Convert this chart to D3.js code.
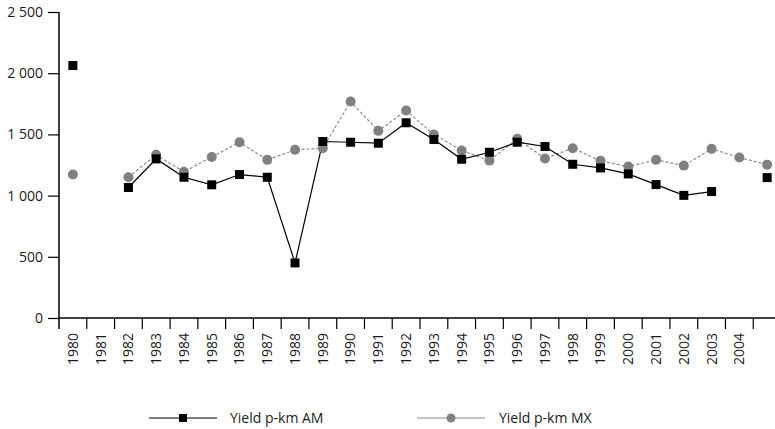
<!DOCTYPE html>
<html>
<head>
<meta charset="utf-8">
<script src="https://cdn.jsdelivr.net/npm/d3@7"></script>
<style>
  body { margin: 0; background: #fff; }
  svg text { font-family: "Open Sans", sans-serif; fill: #1a1a1a; }
</style>
</head>
<body>
<svg id="chart" width="775" height="429"></svg>
<script>
// Data
var years = d3.range(1980, 2006);
var yearLabels = d3.range(1980, 2005);
var yieldAM = [2063, null, 1066, 1300, 1150, 1088, 1172, 1150, 450, 1442, 1436, 1428, 1595,
               1458, 1297, 1354, 1436, 1401, 1256, 1226, 1177, 1090, 1002, 1033, null, 1147];
var yieldMX = [1172, null, 1150, 1333, 1194, 1316, 1436, 1292, 1374, 1387, 1769, 1529, 1695,
               1499, 1368, 1286, 1464, 1303, 1387, 1284, 1237, 1292, 1245, 1382, 1311, 1253];
var yTicks = [0, 500, 1000, 1500, 2000, 2500];
var seriesNames = ["Yield p-km AM", "Yield p-km MX"];

var svg = d3.select("svg"),
    plotLeft = 59, plotTop = 12, plotBottom = 318;

// x: one band per year, the chart runs past the right edge
var x = d3.scaleBand()
    .domain(years)
    .range([plotLeft, plotLeft + 26 * 27.77]);

var y = d3.scaleLinear()
    .domain([0, 2500])
    .range([plotBottom, plotTop]);

// y axis
var gy = svg.append("g")
    .attr("transform", "translate(" + plotLeft + ",0)")
    .call(d3.axisLeft(y).tickValues(yTicks).tickSize(11).tickPadding(5).tickFormat(function(d) {
      return d >= 1000 ? d3.format(",")(d).replace(",", " ") : d;
    }));
gy.select(".domain").remove();
gy.selectAll("line").attr("stroke", "#000").attr("stroke-width", 1.2);
gy.selectAll("text").style("font-size", "14px").attr("fill", "#1a1a1a");
svg.append("line")
    .attr("x1", plotLeft).attr("x2", plotLeft)
    .attr("y1", plotTop).attr("y2", plotBottom + 11)
    .attr("stroke", "#000").attr("stroke-width", 1.5);

// x axis line + boundary ticks
svg.append("line")
    .attr("x1", plotLeft).attr("x2", 775)
    .attr("y1", plotBottom).attr("y2", plotBottom)
    .attr("stroke", "#000").attr("stroke-width", 1.5);
svg.append("g").selectAll("line")
  .data(years.slice(1))
  .enter().append("line")
    .attr("x1", function(d) { return x(d); })
    .attr("x2", function(d) { return x(d); })
    .attr("y1", plotBottom).attr("y2", plotBottom + 11)
    .attr("stroke", "#000").attr("stroke-width", 1.2);

// x labels, rotated, centred in each band
var gx = svg.append("g")
    .attr("transform", "translate(0," + plotBottom + ")")
    .call(d3.axisBottom(x).tickValues(yearLabels).tickSize(0).tickPadding(0));
gx.select(".domain").remove();
gx.selectAll("text")
    .style("font-size", "14px")
    .attr("fill", "#1a1a1a")
    .attr("transform", "rotate(-90)")
    .attr("text-anchor", "end")
    .attr("x", -15)
    .attr("y", 0)
    .attr("dy", "0.35em");

function cx(i) { return x(years[i]) + x.bandwidth() / 2; }

var line = d3.line()
    .defined(function(d) { return d != null; })
    .x(function(d, i) { return cx(i); })
    .y(function(d) { return y(d); });

// MX series (grey, dashed)
svg.append("path")
    .datum(yieldMX)
    .attr("fill", "none")
    .attr("stroke", "#8c8c8c")
    .attr("stroke-width", 1.2)
    .attr("stroke-dasharray", "3,2")
    .attr("d", line);

// AM series (black, solid)
svg.append("path")
    .datum(yieldAM)
    .attr("fill", "none")
    .attr("stroke", "#000")
    .attr("stroke-width", 1.2)
    .attr("d", line);

svg.append("g").selectAll("circle")
  .data(yieldMX.map(function(v, i) { return {v: v, i: i}; }).filter(function(d) { return d.v != null; }))
  .enter().append("circle")
    .attr("cx", function(d) { return cx(d.i); })
    .attr("cy", function(d) { return y(d.v); })
    .attr("r", 5)
    .attr("fill", "#808080");

svg.append("g").selectAll("rect")
  .data(yieldAM.map(function(v, i) { return {v: v, i: i}; }).filter(function(d) { return d.v != null; }))
  .enter().append("rect")
    .attr("x", function(d) { return cx(d.i) - 4.5; })
    .attr("y", function(d) { return y(d.v) - 4.5; })
    .attr("width", 9)
    .attr("height", 9)
    .attr("fill", "#000");

// Legend
var legY = 418;
var leg1 = svg.append("g");
leg1.append("line").attr("x1", 149).attr("x2", 217).attr("y1", legY).attr("y2", legY)
    .attr("stroke", "#555").attr("stroke-width", 1.5);
leg1.append("rect").attr("x", 179).attr("y", legY - 4).attr("width", 8).attr("height", 8).attr("fill", "#000");
leg1.append("text").attr("x", 230).attr("y", legY + 5).style("font-size", "14px").text(seriesNames[0]);

var leg2 = svg.append("g");
leg2.append("line").attr("x1", 417).attr("x2", 485).attr("y1", legY).attr("y2", legY)
    .attr("stroke", "#b0b0b0").attr("stroke-width", 1.5);
leg2.append("circle").attr("cx", 451).attr("cy", legY).attr("r", 4.5).attr("fill", "#808080");
leg2.append("text").attr("x", 499).attr("y", legY + 5).style("font-size", "14px").text(seriesNames[1]);
</script>
</body>
</html>
